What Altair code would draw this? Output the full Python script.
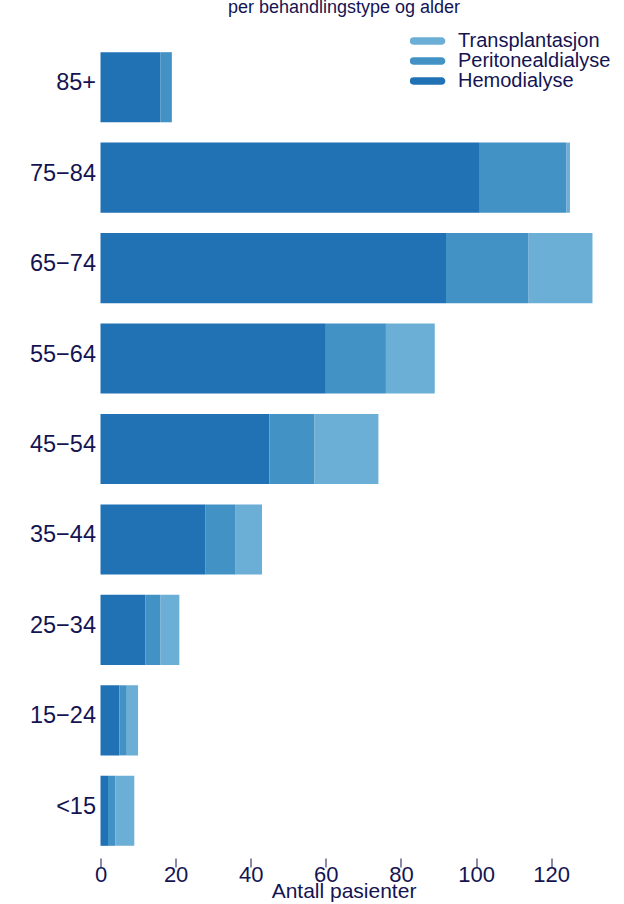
import altair as alt
import pandas as pd

ages = ["85+", "75−84", "65−74", "55−64", "45−54", "35−44", "25−34", "15−24", "<15"]
hemodialyse = [16, 101, 92, 60, 45, 28, 12, 5, 2]
peritonealdialyse = [3, 23, 22, 16, 12, 8, 4, 2, 2]
transplantasjon = [0, 1, 17, 13, 17, 7, 5, 3, 5]

types = ["Transplantasjon", "Peritonealdialyse", "Hemodialyse"]
colors = ["#6baed6", "#4292c6", "#2171b5"]
stack_rank = {"Hemodialyse": 1, "Peritonealdialyse": 2, "Transplantasjon": 3}

rows = []
for i, a in enumerate(ages):
    for t, vals in (("Hemodialyse", hemodialyse), ("Peritonealdialyse", peritonealdialyse), ("Transplantasjon", transplantasjon)):
        rows.append({"alder": a, "type": t, "antall": vals[i], "rank": stack_rank[t]})
df = pd.DataFrame(rows)

navy = "#141452"
font = "Liberation Sans"
legend_symbol = "M-0.8,-0.22H0.8A0.22,0.22 0 0 1 0.8,0.22H-0.8A0.22,0.22 0 0 1 -0.8,-0.22Z"

chart = alt.Chart(df).mark_bar().encode(
    y=alt.Y("alder:N", sort=ages, title=None,
            scale=alt.Scale(paddingInner=0.225, paddingOuter=0.1125),
            axis=alt.Axis(domain=False, ticks=False, tickSize=0, labelPadding=5,
                          labelFontSize=23.5, labelColor=navy, labelFont=font,
                          labelOffset=-4, grid=False)),
    x=alt.X("antall:Q", stack="zero", title="Antall pasienter",
            scale=alt.Scale(domain=[0, 135], nice=False),
            axis=alt.Axis(values=[0, 20, 40, 60, 80, 100, 120], domain=False, grid=False,
                          offset=2, tickSize=9, tickColor=navy, tickWidth=1,
                          labelPadding=-3, labelFlush=False, labelFontSize=22,
                          labelColor=navy, labelFont=font,
                          titleFontSize=21, titleColor=navy, titleFont=font, titleFontWeight="normal",
                          titleX=243, titleY=39, titleBaseline="alphabetic")),
    color=alt.Color("type:N", scale=alt.Scale(domain=types, range=colors),
                    legend=alt.Legend(title=None, orient="none", legendX=309.5, legendY=-9,
                                      symbolType=legend_symbol, symbolSize=1225,
                                      symbolStrokeWidth=0, symbolOpacity=1,
                                      clipHeight=16, rowPadding=0, padding=0,
                                      labelOffset=13, labelFontSize=20, labelColor=navy,
                                      labelFont=font)),
    order=alt.Order("rank:Q", sort="ascending"),
).properties(
    width=507,
    height=814,
    title=alt.TitleParams("per behandlingstype og alder", fontSize=18, color=navy, font=font,
                          fontWeight="normal", anchor="middle", frame="group", dx=-10,
                          baseline="alphabetic", offset=2),
    autosize=alt.AutoSizeParams(type="none"),
    padding={"left": 100.5, "top": 42, "right": 16.5, "bottom": 48},
    background="white",
).configure_view(stroke=None)

chart.save("out.html", embed_options={"renderer": "svg", "actions": False})
